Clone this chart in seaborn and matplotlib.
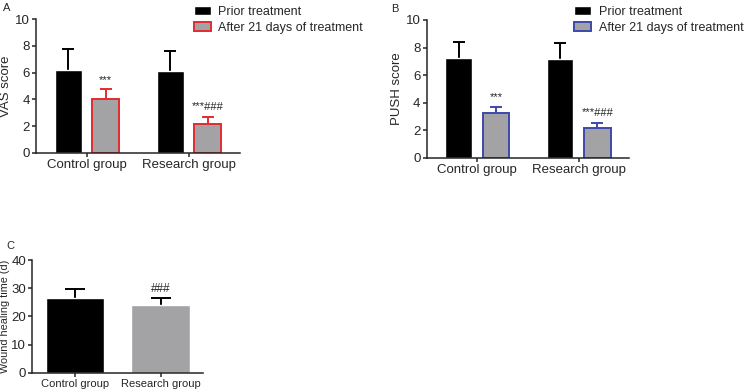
import matplotlib
matplotlib.use("Agg")
import matplotlib.pyplot as plt
import seaborn as sns
import numpy as np
import pandas as pd

groups = ["Control group", "Research group"]
conditions = ["Prior treatment", "After 21 days of treatment"]

vas_prior = [6.2, 6.15]
vas_prior_err = [1.56, 1.5]
vas_after = [4.02, 2.16]
vas_after_err = [0.72, 0.53]

push_prior = [7.27, 7.15]
push_prior_err = [1.16, 1.16]
push_after = [3.24, 2.2]
push_after_err = [0.43, 0.36]

heal_time = [26.6, 23.9]
heal_err = [3.3, 2.8]

vas_marks = ["***", "***###"]
push_marks = ["***", "***###"]
heal_marks = ["", "###"]

GRAY = "#a2a2a6"

sns.set_style("ticks")
plt.rcParams["font.family"] = ["Liberation Sans", "DejaVu Sans"]
plt.rcParams["axes.linewidth"] = 1.1


def paired_df(prior, after):
    return pd.DataFrame({
        "group": groups * 2,
        "cond": [conditions[0]] * 2 + [conditions[1]] * 2,
        "value": list(prior) + list(after),
    })


def style_axis(ax, ylabel, ymax, step, fs):
    sns.despine(ax=ax)
    ax.set_ylim(0, ymax)
    ax.set_yticks(np.arange(0, ymax + 0.1, step))
    ax.set_xlim(-0.5, 1.5)
    ax.set_xlabel("")
    ax.set_ylabel(ylabel, fontsize=fs, labelpad=2)
    ax.tick_params(axis="both", length=3, width=1.1, pad=1.5, labelsize=fs)


def add_errbars(ax, bars, vals, errs, col, cap):
    # symmetric bars drawn under the patches, so only the upper half shows
    xs = [p.get_x() + p.get_width() / 2 for p in bars]
    ax.errorbar(xs, vals, yerr=errs, fmt="none", ecolor=col, elinewidth=1.4,
                capsize=cap, capthick=1.4, zorder=0.9)
    return xs


def paired_panel(ax, prior, prior_err, after, after_err, edge, marks, ylabel, legend_xy):
    df = paired_df(prior, after)
    sns.barplot(data=df, x="group", y="value", hue="cond", order=groups,
                hue_order=conditions, palette=["black", GRAY], width=0.736,
                gap=0.28, errorbar=None, legend=False, ax=ax)
    prior_bars, after_bars = ax.containers[0], ax.containers[1]
    for p in list(prior_bars) + list(after_bars):
        p.set_zorder(1)
    for p in after_bars:
        p.set_edgecolor(edge)
        p.set_linewidth(1.4)
    add_errbars(ax, prior_bars, prior, prior_err, "black", 4.5)
    xs = add_errbars(ax, after_bars, after, after_err, edge, 4.5)
    for x, v, e, m in zip(xs, after, after_err, marks):
        ax.text(x, v + e + 0.35, m, ha="center", va="bottom", fontsize=8)
    style_axis(ax, ylabel, 10, 2, 9.5)
    ax.legend(handles=[prior_bars[0], after_bars[0]], labels=conditions,
              frameon=False, fontsize=9, loc="upper left",
              bbox_to_anchor=legend_xy, bbox_transform=ax.figure.transFigure,
              handlelength=1.4, handleheight=0.8, handletextpad=0.6,
              labelspacing=0.3, borderaxespad=0, borderpad=0)


fig = plt.figure(figsize=(7.5, 3.9), dpi=100)
ax_a = fig.add_axes([0.048, 0.608, 0.272, 0.343])
ax_b = fig.add_axes([0.569, 0.595, 0.270, 0.354])
ax_c = fig.add_axes([0.043, 0.044, 0.228, 0.289])

paired_panel(ax_a, vas_prior, vas_prior_err, vas_after, vas_after_err, "#e32b2f",
             vas_marks, "VAS score", (0.258, 0.985))
paired_panel(ax_b, push_prior, push_prior_err, push_after, push_after_err, "#3d49ad",
             push_marks, "PUSH score", (0.765, 0.985))

heal_df = pd.DataFrame({"group": groups, "value": heal_time})
sns.barplot(data=heal_df, x="group", y="value", hue="group", order=groups,
            palette=["black", GRAY], width=0.68, errorbar=None, legend=False, ax=ax_c)
heal_bars = [c[0] for c in ax_c.containers]
for p in heal_bars:
    p.set_zorder(1)
hx = add_errbars(ax_c, heal_bars, heal_time, heal_err, "black", 7)
for x, v, e, m in zip(hx, heal_time, heal_err, heal_marks):
    if m:
        ax_c.text(x, v + e + 0.8, m, ha="center", va="bottom", fontsize=8.5)
style_axis(ax_c, "Wound healing time (d)", 40, 10, 8)
ax_c.tick_params(axis="y", labelsize=9.5)
ax_c.set_ylabel("Wound healing time (d)", fontsize=7.8, labelpad=1)

fig.text(0.004, 0.992, "A", fontsize=8, va="top")
fig.text(0.522, 0.99, "B", fontsize=8, va="top")
fig.text(0.008, 0.382, "C", fontsize=8, va="top")

fig.savefig("out.png", dpi=100)
